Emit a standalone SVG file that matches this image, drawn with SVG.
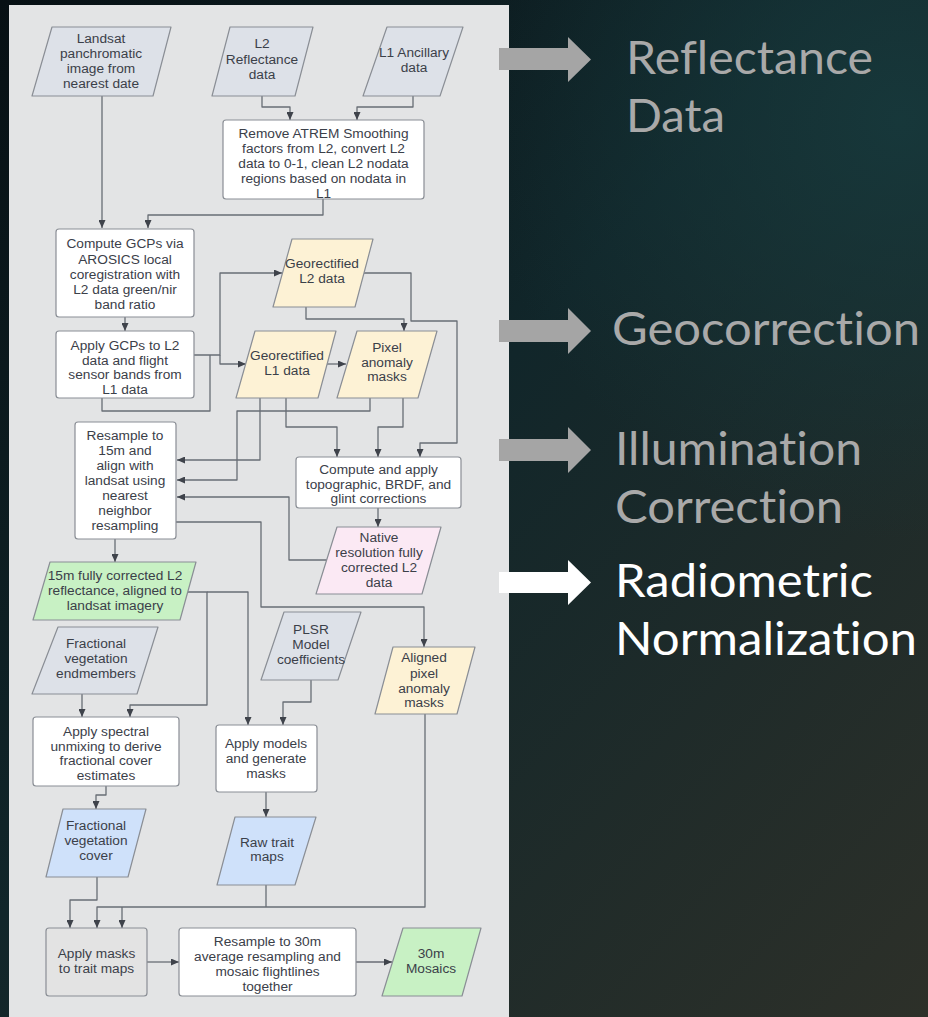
<svg xmlns="http://www.w3.org/2000/svg" width="928" height="1017" viewBox="0 0 928 1017">
<defs>
<linearGradient id="bg" x1="0" y1="0" x2="1" y2="1">
<stop offset="0" stop-color="#071014"/>
<stop offset="0.45" stop-color="#11262a"/>
<stop offset="1" stop-color="#2d3029"/>
</linearGradient>
<radialGradient id="glow" cx="900" cy="120" r="420" gradientUnits="userSpaceOnUse">
<stop offset="0" stop-color="#17393c" stop-opacity="0.9"/>
<stop offset="1" stop-color="#17393c" stop-opacity="0"/>
</radialGradient>
<marker id="ah" markerUnits="userSpaceOnUse" markerWidth="8" markerHeight="7" refX="8" refY="3.5" orient="auto">
<path d="M0,0 L8,3.5 L0,7 z" fill="#3f434b"/>
</marker>
<style>
.n{stroke:#8a8e95;stroke-width:1.2;stroke-linejoin:round}
.w{fill:#ffffff}
.g{fill:#dde1e8}
.y{fill:#fdf2d5}
.gr{fill:#c8f1c4}
.p{fill:#fbe9f4}
.b{fill:#cfe1fa}
.m{fill:#e3e3e3}
.t{font-family:"Liberation Sans",Arial,sans-serif;font-size:13.7px;fill:#3b4049;text-anchor:middle}
.c path{fill:none;stroke:#686d75;stroke-width:1.3;stroke-linejoin:round}
.a{marker-end:url(#ah)}
.big{font-family:Lato,"Open Sans",sans-serif;font-size:46px;font-variant-ligatures:none;font-feature-settings:"liga" 0,"clig" 0,"dlig" 0}
.gray{fill:#a9a9a9}
.wh{fill:#ffffff}
</style>
</defs>
<rect x="0" y="0" width="928" height="1017" fill="url(#bg)"/>
<rect x="0" y="0" width="928" height="1017" fill="url(#glow)"/>
<rect x="9" y="5" width="500" height="1012" fill="#e3e4e5"/>

<g id="connectors" class="c">
<path class="a" d="M102,96 V228"/>
<path class="a" d="M262,96 V107 H290 V120"/>
<path class="a" d="M413,96 V107 H357 V120"/>
<path class="a" d="M323,199 V215 H148 V228"/>
<path class="a" d="M125,317 V331"/>
<path class="a" d="M194,355 H220 V273 H282"/>
<path class="a" d="M220,355 V364 H246"/>
<path d="M102,398 V411 H210 V355"/>
<path class="a" d="M327,364 H346"/>
<path class="a" d="M306,307 V319 H404 V331"/>
<path class="a" d="M364,273 H411 V321 H457 V443 H420 V457"/>
<path class="a" d="M260,398 V460 H177"/>
<path class="a" d="M286,398 V427 H337 V457"/>
<path class="a" d="M370,398 V411 H237 V480 H177"/>
<path class="a" d="M403,398 V427 H378 V457"/>
<path class="a" d="M378,508 V527"/>
<path class="a" d="M327,560 H289 V497 H177"/>
<path class="a" d="M176,522 H261 V607 H424 V647"/>
<path class="a" d="M115,539 V562"/>
<path class="a" d="M188,592 H207 V705 H130 V717"/>
<path class="a" d="M207,592 H248 V725"/>
<path class="a" d="M82,694 V717"/>
<path class="a" d="M106,786 V795 H96 V809"/>
<path class="a" d="M311,680 V702 H283 V725"/>
<path class="a" d="M266,792 V817"/>
<path class="a" d="M97,877 V900 H70 V928"/>
<path class="a" d="M425,714 V907 H97 V928"/>
<path class="a" d="M122,907 V928"/>
<path d="M266,885 V907"/>
<path class="a" d="M147,962 H179"/>
<path class="a" d="M356,962 H392"/>
</g>

<g id="landsat">
<polygon class="n g" points="52,27 171,27 153,96 32,96"/>
<text class="t"><tspan x="101" y="43">Landsat</tspan><tspan x="101" y="58">panchromatic</tspan><tspan x="101" y="73">image from</tspan><tspan x="101" y="88">nearest date</tspan></text>
</g>
<g id="l2refl">
<polygon class="n g" points="230,27 313,27 295,96 212,96"/>
<text class="t"><tspan x="262" y="48">L2</tspan><tspan x="262" y="64">Reflectance</tspan><tspan x="262" y="79">data</tspan></text>
</g>
<g id="l1anc">
<polygon class="n g" points="387,27 463,27 440,96 363,96"/>
<text class="t"><tspan x="414" y="57">L1 Ancillary</tspan><tspan x="414" y="72">data</tspan></text>
</g>
<g id="remove">
<rect class="n w" x="223" y="120" width="201" height="79" rx="3"/>
<text class="t"><tspan x="323.5" y="138">Remove ATREM Smoothing</tspan><tspan x="323.5" y="153">factors from L2, convert L2</tspan><tspan x="323.5" y="168">data to 0-1, clean L2 nodata</tspan><tspan x="323.5" y="183">regions based on nodata in</tspan><tspan x="323.5" y="198">L1</tspan></text>
</g>
<g id="computegcp">
<rect class="n w" x="56" y="229" width="138" height="88" rx="3"/>
<text class="t"><tspan x="125" y="248">Compute GCPs via</tspan><tspan x="125" y="264">AROSICS local</tspan><tspan x="125" y="279">coregistration with</tspan><tspan x="125" y="294">L2 data green/nir</tspan><tspan x="125" y="309">band ratio</tspan></text>
</g>
<g id="applygcp">
<rect class="n w" x="56" y="331" width="138" height="67" rx="3"/>
<text class="t"><tspan x="125" y="350">Apply GCPs to L2</tspan><tspan x="125" y="365">data and flight</tspan><tspan x="125" y="379">sensor bands from</tspan><tspan x="125" y="394">L1 data</tspan></text>
</g>
<g id="georectl2">
<polygon class="n y" points="292,239 373,239 355,307 273,307"/>
<text class="t"><tspan x="322" y="268">Georectified</tspan><tspan x="322" y="283">L2 data</tspan></text>
</g>
<g id="georectl1">
<polygon class="n y" points="255,331 336,331 318,398 236,398"/>
<text class="t"><tspan x="287" y="360">Georectified</tspan><tspan x="287" y="375">L1 data</tspan></text>
</g>
<g id="pixelmask">
<polygon class="n y" points="357,331 437,331 418,398 337,398"/>
<text class="t"><tspan x="387" y="352">Pixel</tspan><tspan x="387" y="367">anomaly</tspan><tspan x="387" y="381">masks</tspan></text>
</g>
<g id="resample15">
<rect class="n w" x="75" y="422" width="101" height="117" rx="3"/>
<text class="t"><tspan x="125" y="440">Resample to</tspan><tspan x="125" y="455">15m and</tspan><tspan x="125" y="470">align with</tspan><tspan x="125" y="485">landsat using</tspan><tspan x="125" y="500">nearest</tspan><tspan x="125" y="515">neighbor</tspan><tspan x="125" y="530">resampling</tspan></text>
</g>
<g id="computeapply">
<rect class="n w" x="296" y="457" width="165" height="51" rx="3"/>
<text class="t"><tspan x="378.5" y="474">Compute and apply</tspan><tspan x="378.5" y="489">topographic, BRDF, and</tspan><tspan x="378.5" y="503">glint corrections</tspan></text>
</g>
<g id="native">
<polygon class="n p" points="337,527 441,527 422,594 316,594"/>
<text class="t"><tspan x="379" y="542">Native</tspan><tspan x="379" y="557">resolution fully</tspan><tspan x="379" y="572">corrected L2</tspan><tspan x="379" y="587">data</tspan></text>
</g>
<g id="corrected15">
<polygon class="n gr" points="50,562 196,562 180,620 33,620"/>
<text class="t"><tspan x="115" y="580">15m fully corrected L2</tspan><tspan x="115" y="595">reflectance, aligned to</tspan><tspan x="115" y="610">landsat imagery</tspan></text>
</g>
<g id="endmembers">
<polygon class="n g" points="58,627 158,627 137,694 32,694"/>
<text class="t"><tspan x="96" y="648">Fractional</tspan><tspan x="96" y="663">vegetation</tspan><tspan x="96" y="678">endmembers</tspan></text>
</g>
<g id="plsr">
<polygon class="n g" points="284,612 361,612 338,680 261,680"/>
<text class="t"><tspan x="311" y="634">PLSR</tspan><tspan x="311" y="649">Model</tspan><tspan x="311" y="664">coefficients</tspan></text>
</g>
<g id="alignedmask">
<polygon class="n y" points="393,647 475,647 457,714 375,714"/>
<text class="t"><tspan x="424" y="662">Aligned</tspan><tspan x="424" y="678">pixel</tspan><tspan x="424" y="693">anomaly</tspan><tspan x="424" y="707">masks</tspan></text>
</g>
<g id="unmixing">
<rect class="n w" x="33" y="717" width="146" height="69" rx="3"/>
<text class="t"><tspan x="106" y="736">Apply spectral</tspan><tspan x="106" y="751">unmixing to derive</tspan><tspan x="106" y="765">fractional cover</tspan><tspan x="106" y="780">estimates</tspan></text>
</g>
<g id="applymodels">
<rect class="n w" x="216" y="725" width="101" height="67" rx="3"/>
<text class="t"><tspan x="266" y="748">Apply models</tspan><tspan x="266" y="763">and generate</tspan><tspan x="266" y="778">masks</tspan></text>
</g>
<g id="fraccover">
<polygon class="n b" points="63,809 146,809 128,877 46,877"/>
<text class="t"><tspan x="96" y="830">Fractional</tspan><tspan x="96" y="845">vegetation</tspan><tspan x="96" y="860">cover</tspan></text>
</g>
<g id="rawtrait">
<polygon class="n b" points="235,817 316,817 295,885 217,885"/>
<text class="t"><tspan x="267" y="847">Raw trait</tspan><tspan x="267" y="861">maps</tspan></text>
</g>
<g id="applymasks">
<rect class="n m" x="46" y="928" width="101" height="68" rx="3"/>
<text class="t"><tspan x="96.5" y="958">Apply masks</tspan><tspan x="96.5" y="973">to trait maps</tspan></text>
</g>
<g id="resample30">
<rect class="n w" x="179" y="928" width="177" height="68" rx="3"/>
<text class="t"><tspan x="267.5" y="946">Resample to 30m</tspan><tspan x="267.5" y="961">average resampling and</tspan><tspan x="267.5" y="976">mosaic flightlines</tspan><tspan x="267.5" y="991">together</tspan></text>
</g>
<g id="mosaics">
<polygon class="n gr" points="403,928 481,928 462,996 382,996"/>
<text class="t"><tspan x="431" y="958">30m</tspan><tspan x="431" y="973">Mosaics</tspan></text>
</g>

<g id="stages">
<polygon fill="#a5a5a5" points="499,48 568,48 568,37 591,59.5 568,82 568,70 499,70"/>
<polygon fill="#a5a5a5" points="499,320 568,320 568,308 591,331 568,354 568,342 499,342"/>
<polygon fill="#a5a5a5" points="499,439 568,439 568,427 591,450 568,473 568,461 499,461"/>
<polygon fill="#ffffff" points="499,572 568,572 568,560 591,582.5 568,605 568,593 499,593"/>
<text class="big gray" x="626" y="74" textLength="247" lengthAdjust="spacingAndGlyphs">Reflectance</text>
<text class="big gray" x="626" y="132" textLength="99" lengthAdjust="spacingAndGlyphs">Data</text>
<text class="big gray" x="612" y="345" textLength="308" lengthAdjust="spacingAndGlyphs">Geocorrection</text>
<text class="big gray" x="615" y="465" textLength="247" lengthAdjust="spacingAndGlyphs">Illumination</text>
<text class="big gray" x="615" y="523" textLength="228" lengthAdjust="spacingAndGlyphs">Correction</text>
<text class="big wh" x="615" y="597" textLength="258" lengthAdjust="spacingAndGlyphs">Radiometric</text>
<text class="big wh" x="615" y="655" textLength="302" lengthAdjust="spacingAndGlyphs">Normalization</text>
</g>
</svg>
